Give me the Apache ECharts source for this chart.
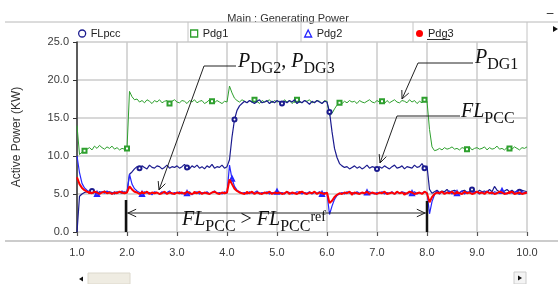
<!DOCTYPE html>
<html><head><meta charset="utf-8">
<script src="https://cdn.jsdelivr.net/npm/echarts@6/dist/echarts.min.js"></script>
<style>html,body{margin:0;padding:0;background:#fff}#c{width:558px;height:284px}</style>
</head><body><div id="c"></div>
<script>
const T = [
1.00,1.05,1.10,1.15,1.20,1.25,1.30,1.35,1.40,1.45,1.50,1.55,1.60,1.65,1.70,1.75,1.80,1.85,1.90,1.95,
2.00,2.05,2.10,2.15,2.20,2.25,2.30,2.35,2.40,2.45,2.50,2.55,2.60,2.65,2.70,2.75,2.80,2.85,2.90,2.95,
3.00,3.05,3.10,3.15,3.20,3.25,3.30,3.35,3.40,3.45,3.50,3.55,3.60,3.65,3.70,3.75,3.80,3.85,3.90,3.95,
4.00,4.05,4.10,4.15,4.20,4.25,4.30,4.35,4.40,4.45,4.50,4.55,4.60,4.65,4.70,4.75,4.80,4.85,4.90,4.95,
5.00,5.05,5.10,5.15,5.20,5.25,5.30,5.35,5.40,5.45,5.50,5.55,5.60,5.65,5.70,5.75,5.80,5.85,5.90,5.95,
6.00,6.05,6.10,6.15,6.20,6.25,6.30,6.35,6.40,6.45,6.50,6.55,6.60,6.65,6.70,6.75,6.80,6.85,6.90,6.95,
7.00,7.05,7.10,7.15,7.20,7.25,7.30,7.35,7.40,7.45,7.50,7.55,7.60,7.65,7.70,7.75,7.80,7.85,7.90,7.95,
8.00,8.05,8.10,8.15,8.20,8.25,8.30,8.35,8.40,8.45,8.50,8.55,8.60,8.65,8.70,8.75,8.80,8.85,8.90,8.95,
9.00,9.05,9.10,9.15,9.20,9.25,9.30,9.35,9.40,9.45,9.50,9.55,9.60,9.65,9.70,9.75,9.80,9.85,9.90,9.95,
10.00];

const Pdg1 = [
14.0,10.2,10.5,10.7,10.9,11.1,10.8,11.3,11.0,11.4,11.1,10.9,11.2,11.0,11.3,10.9,11.1,10.8,11.0,10.9,
11.0,
18.5,17.8,17.4,17.5,17.1,17.3,17.0,17.4,17.2,16.9,17.3,17.1,17.4,17.0,17.2,17.3,16.9,17.2,17.4,17.1,
17.0,17.3,17.2,16.9,17.3,17.1,17.4,17.0,17.2,17.3,16.9,17.1,17.4,17.2,17.0,17.3,17.1,16.9,17.2,17.1,
19.2,18.3,17.6,17.3,17.1,17.4,17.2,17.0,17.3,17.1,17.4,17.2,16.9,17.3,17.1,17.2,17.4,17.0,17.3,17.1,
17.2,17.0,17.4,17.1,17.3,16.9,17.2,17.4,17.1,17.0,17.3,17.2,17.4,17.0,17.1,17.3,17.2,16.9,17.3,17.2,
15.3,15.6,16.2,16.7,17.0,16.9,17.2,17.0,17.3,17.1,17.2,16.9,17.3,17.1,17.0,17.2,17.4,17.1,17.0,17.3,
17.1,17.2,16.9,17.3,17.0,17.2,17.4,17.1,17.0,17.3,17.2,17.0,17.4,17.1,17.3,16.9,17.2,17.0,17.4,17.2,
13.5,11.2,10.7,10.8,11.0,10.8,11.1,10.9,11.0,11.2,10.9,11.0,10.8,11.1,11.0,10.9,11.2,10.8,11.0,11.1,
10.9,11.0,11.2,10.8,11.1,10.9,11.0,11.3,10.9,11.0,10.8,11.1,11.0,10.9,11.2,11.0,10.8,11.1,11.0,11.2];

const FLpcc = [
0.0,4.7,5.0,5.2,5.3,5.1,5.4,5.2,5.0,5.3,5.2,5.4,5.1,5.3,5.2,5.0,5.3,5.2,5.1,5.3,
5.2,
7.6,7.9,8.3,8.6,8.4,8.7,8.5,8.3,8.8,8.5,8.4,8.7,8.6,8.3,8.5,8.8,8.4,8.6,8.5,8.7,
8.4,8.6,8.9,8.5,8.3,8.7,8.5,8.8,8.4,8.6,8.3,8.7,8.5,8.9,8.4,8.6,8.5,8.8,8.4,8.6,
9.5,12.5,14.8,16.0,16.6,16.9,17.2,17.0,17.3,17.1,16.9,17.2,17.4,17.0,17.1,17.3,16.9,17.2,17.0,17.3,
17.1,16.9,17.2,17.0,17.3,17.1,17.4,16.9,17.2,17.0,17.3,17.1,16.8,17.2,17.0,17.3,17.1,16.9,17.2,17.1,
15.8,13.2,11.0,9.8,9.0,8.7,8.5,8.6,8.3,8.5,8.7,8.4,8.6,8.3,8.5,8.8,8.4,8.6,8.5,8.3,
8.6,8.4,8.7,8.5,8.3,8.6,8.8,8.4,8.5,8.7,8.3,8.6,8.5,8.4,8.8,8.5,8.6,9.0,8.4,8.7,
5.6,5.1,5.3,5.5,5.2,5.4,5.3,5.6,5.2,5.4,5.5,5.3,5.1,5.4,5.5,5.2,5.3,5.6,5.4,5.2,
5.5,5.3,5.4,5.2,5.6,5.3,6.0,5.5,5.3,5.2,5.4,5.6,5.3,5.5,5.2,5.4,5.3,5.5,5.4,5.3];

const Pdg2 = [
10.0,7.8,6.4,5.8,5.5,5.3,5.1,5.3,5.0,5.2,5.3,5.1,5.4,5.2,5.0,5.3,5.1,5.2,5.4,5.1,
5.2,
7.6,6.3,5.7,5.4,5.2,5.0,5.3,5.1,5.2,4.9,5.3,5.2,5.0,5.3,5.1,5.2,5.4,5.0,5.2,5.1,
5.3,5.0,5.2,5.1,5.3,4.9,5.2,5.3,5.0,5.2,5.1,5.3,5.0,5.2,5.4,5.1,5.2,5.0,5.3,5.1,
8.8,7.0,6.0,5.5,5.3,5.1,5.2,5.0,5.3,5.1,5.2,5.4,5.0,5.2,5.1,5.3,5.0,5.2,5.1,5.3,
5.1,5.2,5.0,5.3,5.2,5.0,5.1,5.3,5.2,5.0,5.2,5.1,5.3,5.0,5.2,5.1,5.3,5.0,5.2,5.1,
2.3,3.4,4.3,4.8,5.0,5.2,5.0,5.3,5.1,5.2,5.0,5.3,5.1,5.2,5.0,5.2,5.3,5.1,5.0,5.2,
5.1,5.3,5.0,5.2,5.1,5.3,5.0,5.2,5.1,5.3,5.2,5.0,5.2,5.1,5.3,5.0,5.2,5.1,5.3,5.2,
2.4,4.0,4.9,5.4,5.0,5.3,5.1,5.2,5.4,5.0,5.3,5.1,5.2,5.4,5.0,5.3,5.2,5.1,5.3,5.2,
5.0,5.3,5.1,5.4,5.2,5.0,5.3,5.2,5.1,5.4,5.2,5.0,5.3,5.1,5.2,5.4,5.0,5.3,5.2,5.1];

const Pdg3 = [
7.2,6.3,5.8,5.5,5.3,5.2,5.1,5.3,5.2,5.0,5.2,5.3,5.1,5.2,5.0,5.2,5.1,5.3,5.2,5.1,
5.2,
6.0,5.6,5.3,5.2,5.0,5.2,5.1,5.3,5.0,5.2,5.1,5.2,5.0,5.1,5.3,5.0,5.2,5.1,5.0,5.2,
5.1,5.2,5.0,5.3,5.1,5.0,5.2,5.1,5.3,5.0,5.2,5.1,5.0,5.2,5.3,5.1,5.0,5.2,5.1,5.2,
6.9,6.3,5.7,5.4,5.2,5.1,5.0,5.2,5.1,5.3,5.0,5.2,5.1,5.0,5.2,5.1,5.3,5.0,5.2,5.1,
5.2,5.0,5.1,5.3,5.0,5.2,5.1,5.0,5.2,5.3,5.1,5.0,5.2,5.1,5.3,5.0,5.2,5.1,5.0,5.2,
3.8,4.1,4.6,4.9,5.1,5.0,5.2,5.1,5.3,5.0,5.2,5.1,5.0,5.2,5.1,5.3,5.0,5.2,5.1,5.0,
5.2,5.1,5.3,5.0,5.1,5.2,5.0,5.3,5.1,5.2,5.0,5.1,5.3,5.2,5.0,5.1,5.2,5.0,5.3,5.1,
3.9,4.6,5.0,5.2,5.1,5.3,5.0,5.2,5.1,5.3,5.0,5.2,5.1,5.0,5.3,5.1,5.2,5.0,5.1,5.3,
5.1,5.2,5.0,5.3,5.1,5.2,5.0,5.1,5.3,5.2,5.0,5.1,5.2,5.3,5.0,5.1,5.2,5.0,5.1,5.2];

const C = {FLpcc:'#1c1c8f', Pdg1:'#2ea02e', Pdg2:'#2626ff', Pdg3:'#ff0000'};
const pairs = a => T.map((t,i)=>[t,a[i]]);
const sans = 'Liberation Sans, Arial, sans-serif';
const serif = 'Liberation Serif, Times New Roman, serif';

const chart = echarts.init(document.getElementById('c'), null, {renderer:'canvas'});

function mkLine(name, arr, sym, size, mod, off, width, z){
  return {name, type:'line', data:pairs(arr), z, silent:true, animation:false,
    symbol:sym, showSymbol:true, showAllSymbol:true,
    symbolSize:(v,p)=> (p.dataIndex % mod === off ? size : 0),
    lineStyle:{color:C[name], width}, itemStyle:{color:C[name], borderWidth:1},
    emphasis:{disabled:true}};
}

const rich = {
  i:{fontFamily:serif, fontStyle:'italic', fontSize:20, lineHeight:25, verticalAlign:'top', fill:'#111'},
  n:{fontFamily:serif, fontSize:20, lineHeight:25, verticalAlign:'top', fill:'#111'},
  s:{fontFamily:serif, fontSize:16, lineHeight:16, verticalAlign:'bottom', fill:'#111'},
  r:{fontFamily:serif, fontSize:14, lineHeight:14, verticalAlign:'top', fill:'#111'}
};
function txt(x,y,t){return {type:'text', x, y, z:50, style:{text:t, rich, verticalAlign:'top', align:'left'}};}
function pl(points, w){return {type:'polyline', z:50, shape:{points}, style:{stroke:'#222', lineWidth:w||1, fill:null}};}
function head(tip, from, len){
  len = len||9;
  const a = Math.atan2(from[1]-tip[1], from[0]-tip[0]);
  const d = 25*Math.PI/180;
  return pl([[tip[0]+len*Math.cos(a+d), tip[1]+len*Math.sin(a+d)], tip, [tip[0]+len*Math.cos(a-d), tip[1]+len*Math.sin(a-d)]]);
}
function ln(x1,y1,x2,y2,c,w,z){return {type:'line', z:z||40, shape:{x1,y1,x2,y2}, style:{stroke:c, lineWidth:w}};}

const legendBase = (left, item) => ({left, top:28, padding:0, itemWidth:7, itemHeight:7, selectedMode:false,
  textStyle:{fontFamily:sans, fontSize:11, color:'#222'}, data:[item]});

chart.setOption({
  backgroundColor:'#fff',
  animation:false,
  title:{text:'Main : Generating Power', left:283, top:8, textAlign:'center',
    textStyle:{fontFamily:sans, fontSize:11, fontWeight:'normal', color:'#333'}},
  legend:[
    legendBase(78, {name:'FLpcc', icon:'circle', itemStyle:{color:'#fff', borderColor:C.FLpcc, borderWidth:1.3}}),
    legendBase(190,{name:'Pdg1', icon:'rect', itemStyle:{color:'#fff', borderColor:C.Pdg1, borderWidth:1.3}}),
    legendBase(304,{name:'Pdg2', icon:'triangle', itemStyle:{color:'#fff', borderColor:C.Pdg2, borderWidth:1.3}}),
    legendBase(416,{name:'Pdg3', icon:'circle', itemStyle:{color:C.Pdg3, borderWidth:0}})
  ],
  grid:{left:77, right:31, top:42, bottom:52, containLabel:false},
  xAxis:{type:'value', min:1, max:10, interval:1, offset:9,
    axisLine:{show:false},
    axisTick:{show:true, length:4, lineStyle:{color:'#555', width:1.2}},
    axisLabel:{margin:6, fontFamily:sans, fontSize:11, color:'#3a3a3a', formatter:v=>v.toFixed(1)},
    splitLine:{show:true, lineStyle:{color:'#cbcbcb', width:1.5}}},
  yAxis:{type:'value', min:0, max:25, interval:5,
    name:'Active Power (KW)', nameLocation:'middle', nameGap:54, nameRotate:90,
    nameTextStyle:{fontFamily:sans, fontSize:12, color:'#333'},
    axisLine:{show:true, lineStyle:{color:'#333', width:1.5}},
    axisTick:{show:true, inside:false, length:4, lineStyle:{color:'#333'}},
    axisLabel:{margin:8, fontFamily:sans, fontSize:11, color:'#3a3a3a', formatter:v=>v.toFixed(1)},
    splitLine:{show:true, lineStyle:{color:'#cbcbcb', width:1.5}}},
  series:[
    mkLine('Pdg1', Pdg1, 'emptyRect', 4, 17, 3, 1, 2),
    mkLine('FLpcc', FLpcc, 'emptyCircle', 4, 19, 6, 1.2, 3),
    mkLine('Pdg2', Pdg2, 'emptyTriangle', 4, 18, 8, 1.2, 4),
    mkLine('Pdg3', Pdg3, 'circle', 3, 21, 5, 2, 5)
  ],
  graphic:[
    ln(5,22,558,22,'#b8b8b8',1,30),
    ln(188,22,188,42,'#c4c4c4',1,30),
    ln(301,22,301,42,'#c4c4c4',1,30),
    ln(413,22,413,42,'#c4c4c4',1,30),
    ln(527,22,527,42,'#c4c4c4',1,30),
    ln(427,39.5,450,39.5,'#333',1,30),
    ln(5,241,558,241,'#9a9a9a',1.2,30),
    {type:'text', x:550, y:14, style:{text:'–', fontFamily:sans, fontSize:12, fill:'#222', align:'center', verticalAlign:'middle'}},
    {type:'polygon', shape:{points:[[553,26],[558,29],[553,32]]}, style:{fill:'#111'}},
    {type:'rect', shape:{x:88, y:273, width:42, height:11}, style:{fill:'#efece2', stroke:'#dcd8cc'}},
    {type:'polygon', shape:{points:[[83,276.5],[79,279],[83,281.5]]}, style:{fill:'#111'}},
    {type:'rect', shape:{x:514, y:272, width:12, height:12}, style:{fill:'#f4f4f4', stroke:'#ccc'}},
    {type:'polygon', shape:{points:[[518,275.5],[522,278],[518,280.5]]}, style:{fill:'#111'}},
    pl([[236,66],[204,66],[159,190]]), head([159,190],[204,66]),
    txt(238,52,'{i|P}{s|DG2}{n|, }{i|P}{s|DG3}'),
    pl([[473,63],[418,63],[402,99]]), head([402,99],[418,63]),
    txt(475,48,'{i|P}{s|DG1}'),
    pl([[460,116],[397,116],[380,163]]), head([380,163],[397,116]),
    txt(461,102,'{i|FL}{s|PCC}'),
    ln(126,200,126,232,'#111',2.5,50), ln(427,201,427,232,'#111',2.5,50),
    pl([[127,213],[426,213]]), head([128,213],[140,213]), head([425,213],[413,213]),
    txt(182,210,'{i|FL}{s|PCC}{n| > }{i|FL}{s|PCC}{r|ref}')
  ]
});
</script></body></html>
